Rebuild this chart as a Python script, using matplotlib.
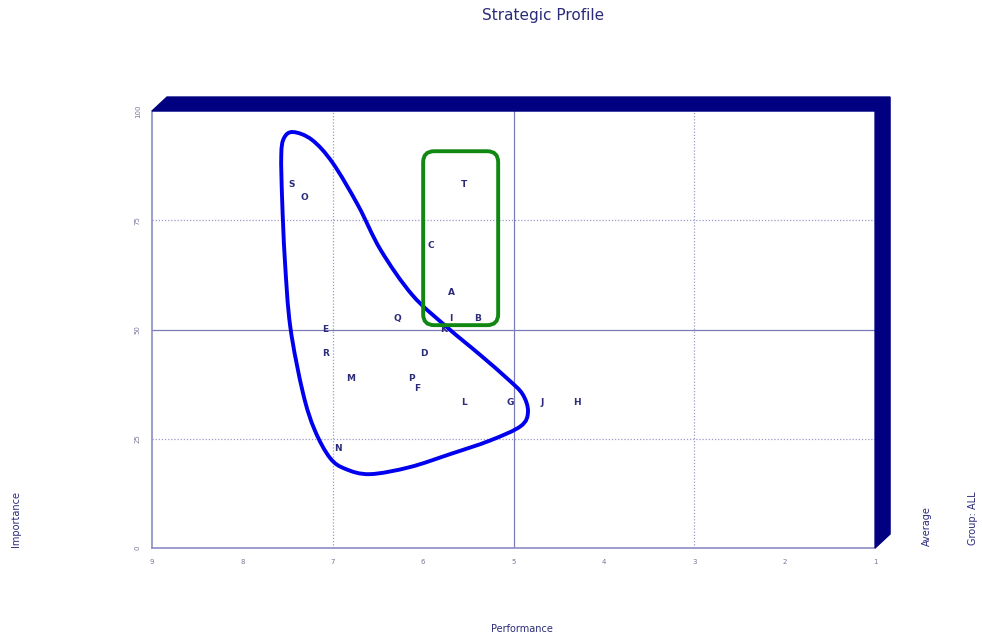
import matplotlib
matplotlib.use('Agg')
import matplotlib.pyplot as plt
import numpy as np
from matplotlib.patches import Polygon, FancyBboxPatch, PathPatch
from matplotlib.path import Path
from matplotlib.transforms import IdentityTransform

# attribute scores: performance (x, reversed scale) and importance (y)
labels = ['S', 'O', 'T', 'C', 'A', 'Q', 'I', 'B', 'E', 'K',
          'R', 'D', 'M', 'P', 'F', 'L', 'G', 'J', 'H', 'N']
performance = [7.45, 7.31, 5.55, 5.91, 5.69, 6.29, 5.69, 5.40, 7.08, 5.77,
               7.08, 5.99, 6.80, 6.13, 6.07, 5.55, 5.04, 4.68, 4.30, 6.94]
importance = [83.3, 80.3, 83.3, 69.3, 58.4, 52.6, 52.6, 52.6, 50.1, 49.9,
              44.6, 44.6, 38.9, 38.9, 36.4, 33.4, 33.4, 33.4, 33.4, 22.7]

avg_performance = 5
avg_importance = 50

# hand-drawn lasso around the low-performance group (performance, importance)
lasso_x = [7.44, 7.23, 7.00, 6.72, 6.47, 6.12, 5.74, 5.37, 5.06, 4.90,
           4.84, 4.92, 5.26, 5.70, 6.15, 6.59, 6.86, 7.03, 7.20, 7.33, 7.47,
           7.53, 7.56, 7.57, 7.54]
lasso_y = [95.2, 93.4, 88.1, 78.4, 68.2, 57.9, 50.6, 44.2, 38.6, 35.2,
           31.2, 27.9, 24.6, 21.5, 18.5, 16.9, 18.1, 20.6, 27.0, 35.5, 50.6,
           65.9, 79.6, 89.9, 93.8]

# box around the high-importance group
box_x = [6.00, 5.17]
box_y = [51.0, 90.8]

navy = '#000080'
txt = '#2b2b7a'
grid_col = '#9a9acc'

fig = plt.figure(figsize=(9.82, 6.37), dpi=100)
ax = fig.add_axes([0.1548, 0.1397, 0.7363, 0.686])
ax.set_xlim(9, 1)
ax.set_ylim(0, 100)

for s in ['top', 'right']:
    ax.spines[s].set_visible(False)
for s in ['left', 'bottom']:
    ax.spines[s].set_color('#8c8cc4')
    ax.spines[s].set_linewidth(1.2)

ax.set_xticks(range(9, 0, -1))
ax.set_yticks([0, 25, 50, 75, 100])
ax.tick_params(length=0, labelsize=5, colors='#77779a', pad=8)
for t in ax.get_yticklabels():
    t.set_rotation(90)
    t.set_va('center')

# dotted grid and solid average lines
for v in [7, 3]:
    ax.axvline(v, color=grid_col, ls=(0, (1, 1.5)), lw=0.9, zorder=1)
for v in [25, 75]:
    ax.axhline(v, color=grid_col, ls=(0, (1, 1.5)), lw=0.9, zorder=1)
ax.axvline(avg_performance, color='#7c7cb8', lw=0.9, zorder=1)
ax.axhline(avg_importance, color='#7c7cb8', lw=0.9, zorder=1)

# 3d frame along the top and right
dx, dy = 15 / 723, 14 / 437
frame = Polygon([(0, 1), (dx, 1 + dy), (1 + dx, 1 + dy), (1 + dx, dy),
                 (1, 0), (1, 1)], closed=True, transform=ax.transAxes,
                facecolor=navy, edgecolor=navy, clip_on=False, zorder=3)
ax.add_patch(frame)

for lab, x, y in zip(labels, performance, importance):
    ax.text(x, y, lab, fontsize=6.5, fontweight='bold', color=txt,
            ha='center', va='center', zorder=4)

# closed smooth curve through the lasso vertices (Catmull-Rom -> Bezier)
pts = ax.transData.transform(np.column_stack([lasso_x, lasso_y]))
n = len(pts)
verts = [pts[0]]
codes = [Path.MOVETO]
for i in range(n):
    p0, p1, p2, p3 = pts[i - 1], pts[i], pts[(i + 1) % n], pts[(i + 2) % n]
    c1 = p1 + (p2 - p0) / 6
    c2 = p2 - (p3 - p1) / 6
    verts += [c1, c2, p2]
    codes += [Path.CURVE4] * 3
lasso = PathPatch(Path(verts, codes), transform=IdentityTransform(),
                  facecolor='none', edgecolor='#0000ee', lw=2.8, zorder=5)
fig.add_artist(lasso)

(bx0, by0), (bx1, by1) = ax.transData.transform([(box_x[0], box_y[0]), (box_x[1], box_y[1])])
r = 11
box = FancyBboxPatch((bx0 + r, by0 + r), bx1 - bx0 - 2 * r, by1 - by0 - 2 * r,
                     boxstyle='round,pad=%d' % r, transform=IdentityTransform(),
                     facecolor='none', edgecolor='#118811', lw=2.8, zorder=5)
fig.add_artist(box)

fig.text(0.553, 0.975, 'Strategic Profile', ha='center', va='center',
         fontsize=11, color=txt)
fig.text(0.016, 0.185, 'Importance', rotation=90, ha='center', va='center',
         fontsize=7, color=txt)
fig.text(0.532, 0.012, 'Performance', ha='center', va='center',
         fontsize=7, color=txt)
fig.text(0.944, 0.174, 'Average', rotation=90, ha='center', va='center',
         fontsize=7, color=txt)
fig.text(0.991, 0.187, 'Group: ALL', rotation=90, ha='center', va='center',
         fontsize=7, color=txt)

fig.savefig('out.png', dpi=100, facecolor='white')
